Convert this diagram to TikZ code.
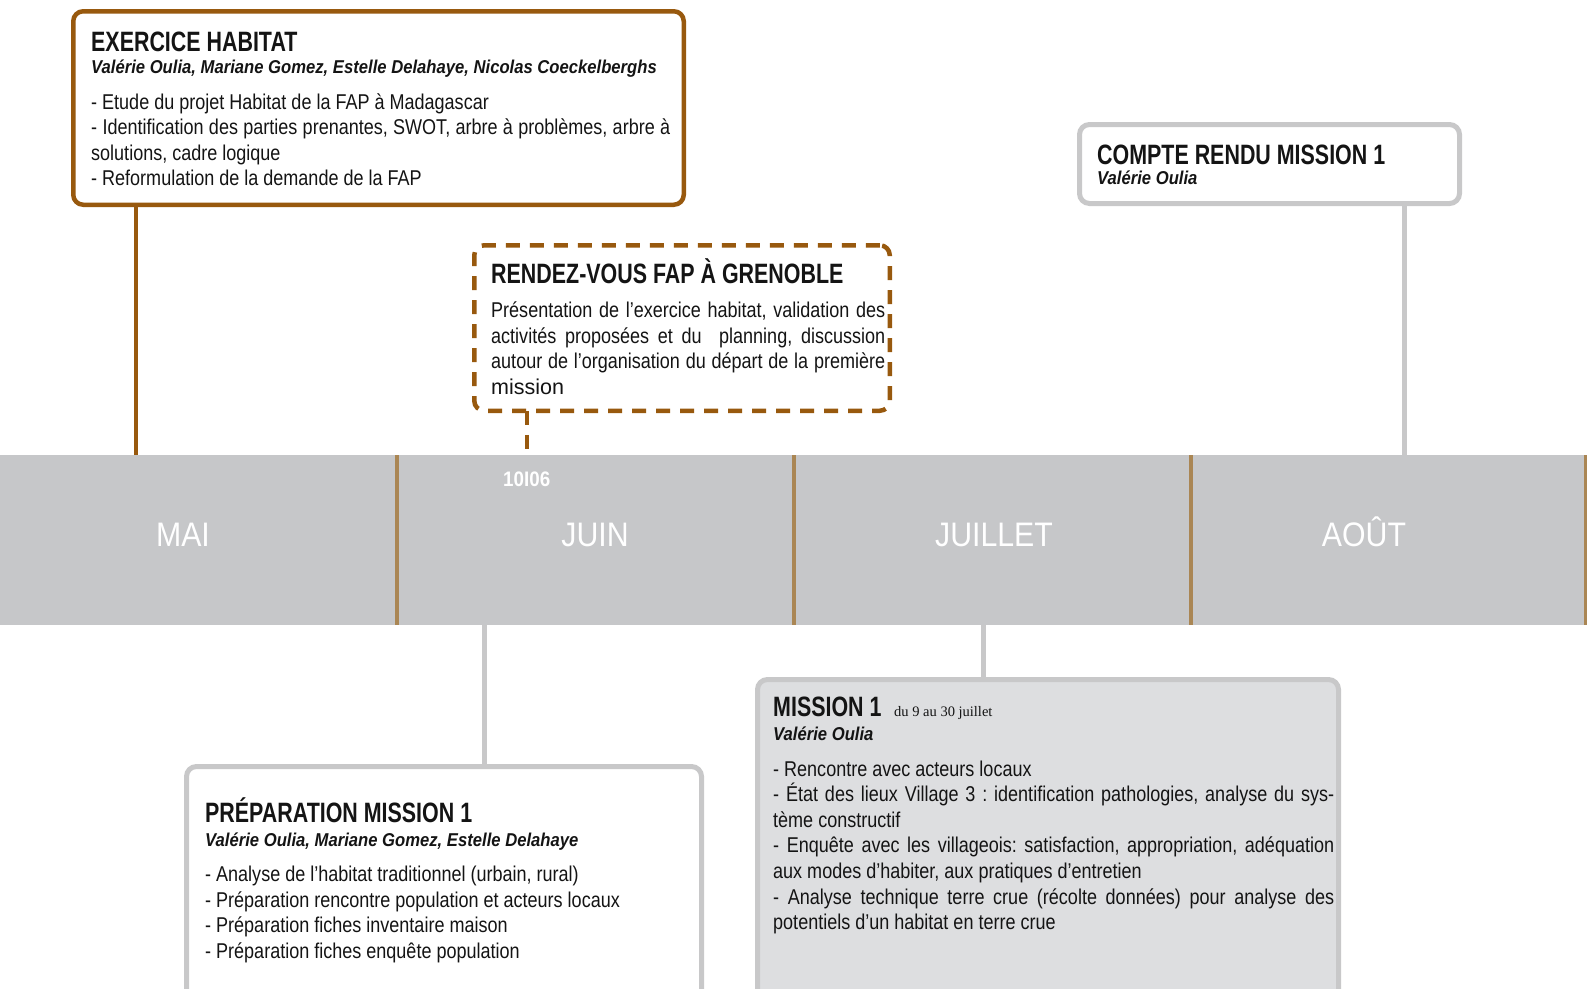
\documentclass[tikz,border=0pt]{standalone}
\usepackage{fontspec}
\setmainfont{Liberation Sans}
\newfontfamily\fTitle[FakeStretch=0.765]{Liberation Sans}
\newfontfamily\fAuth[FakeStretch=0.895]{Liberation Sans}
\newfontfamily\fBody[FakeStretch=0.842]{Liberation Sans}
\newfontfamily\fMonth[FakeStretch=0.89]{Liberation Sans}
\newfontfamily\fSerif{Liberation Serif}
\definecolor{brn}{RGB}{152,89,14}
\definecolor{tanc}{RGB}{170,134,84}
\definecolor{bandg}{RGB}{198,199,201}
\definecolor{lineg}{RGB}{200,200,201}
\definecolor{misf}{RGB}{221,222,224}
\definecolor{txt}{RGB}{20,20,20}
\frenchspacing
\begin{document}
\begin{tikzpicture}[x=1pt,y=-1pt,
  boxbase/.style={anchor=north west,inner sep=0pt,outer sep=0pt,rounded corners=10pt},
  brbox/.style={boxbase,draw=brn,line width=4.5pt,fill=white},
  brdash/.style={boxbase,draw=brn,line width=4.5pt,dash pattern=on 14pt off 10pt,fill=white},
  gbox/.style={boxbase,draw=lineg,line width=5pt,fill=white},
  mbox/.style={boxbase,draw=lineg,line width=5pt,fill=misf},
  bconn/.style={draw=brn,line width=4.5pt},
  bdconn/.style={draw=brn,line width=4.5pt,dash pattern=on 14pt off 10pt},
  gconn/.style={draw=lineg,line width=5pt},
  bandcell/.style={anchor=north west,inner sep=0pt,outer sep=0pt,fill=bandg,minimum height=170pt},
  divline/.style={draw=tanc,line width=3.5pt},
  ttl/.style={anchor=base west,inner sep=0pt,text=txt,font=\fTitle\bfseries\fontsize{28}{30}\selectfont},
  auth/.style={anchor=base west,inner sep=0pt,text=txt,font=\fAuth\bfseries\itshape\fontsize{18.6}{22}\selectfont},
  bodytxt/.style={anchor=base west,inner sep=0pt,text=txt,font=\fBody\fontsize{21.4}{25.6}\selectfont},
  monthlbl/.style={anchor=base,inner sep=0pt,text=white,font=\fMonth\fontsize{34}{34}\selectfont}
]
\useasboundingbox (0,0) rectangle (1587,988);
\clip (0,0) rectangle (1587,988);
\fill[white] (0,0) rectangle (1587,988);

% timeline band
\node[bandcell,minimum width=397pt] (mai) at (0,455) {};
\node[bandcell,minimum width=397pt] (juin) at (397,455) {};
\node[bandcell,minimum width=397pt] (juillet) at (794,455) {};
\node[bandcell,minimum width=396pt] (aout) at (1191,455) {};
\draw[divline] (mai.north east) -- (mai.south east);
\draw[divline] (juin.north east) -- (juin.south east);
\draw[divline] (juillet.north east) -- (juillet.south east);
\draw[divline] ([xshift=-1.75pt]aout.north east) -- ([xshift=-1.75pt]aout.south east);
\node[monthlbl] (lmai) at (183,546.5) {MAI};
\node[monthlbl] (ljuin) at (595,546.5) {JUIN};
\node[monthlbl] (ljuillet) at (994,546.5) {JUILLET};
\node[monthlbl] (laout) at (1364,546.5) {AOÛT};
\node[anchor=base west,inner sep=0pt,text=white,font=\fAuth\bfseries\fontsize{21}{21}\selectfont] (date) at (503,486) {10I06};

% boxes
\node[brbox,minimum width=610.5pt,minimum height=193.5pt] (exbox) at (73.25,11.25) {};
\node[brdash,minimum width=415.5pt,minimum height=165.5pt] (rdvbox) at (474.25,245.25) {};
\node[gbox,minimum width=380pt,minimum height=79pt] (crbox) at (1079.5,124.5) {};
\node[gbox,minimum width=515pt,minimum height=260pt] (prepbox) at (186.5,766.5) {};
\node[mbox,minimum width=581pt,minimum height=340pt] (misbox) at (757.5,679.5) {};

% connectors
\draw[bconn] (exbox.south -| 136,0) -- (mai.north -| 136,0);
\draw[bdconn] (rdvbox.south -| 527,0) -- (juin.north -| 527,0);
\draw[gconn] (crbox.south -| 1404.5,0) -- (aout.north -| 1404.5,0);
\draw[gconn] (juin.south -| 484,0) -- (prepbox.north -| 484,0);
\draw[gconn] (juillet.south -| 983,0) -- (misbox.north -| 983,0);

% box 1
\node[ttl] (exT) at (91,51.7) {EXERCICE HABITAT};
\node[auth] (exA) at (91,73.3) {Valérie Oulia, Mariane Gomez, Estelle Delahaye, Nicolas Coeckelberghs};
\node[bodytxt] (exB) at (91,109) {\vtop{\hbox{- Etude du projet Habitat de la FAP à Madagascar}\hbox to 579pt{- Identification des parties prenantes, SWOT, arbre à problèmes, arbre à}\hbox{solutions, cadre logique}\hbox{- Reformulation de la demande de la FAP}}};

% box 2
\node[ttl] (rdvT) at (491,283) {RENDEZ-VOUS FAP À GRENOBLE};
\node[bodytxt] (rdvB) at (491,317.5) {\vtop{\hbox to 394pt{Présentation de l’exercice habitat, validation des}\hbox to 394pt{activités proposées et du \ planning, discussion}\hbox to 394pt{autour de l’organisation du départ de la première}\hbox{\normalfont\fontsize{21.5}{25.6}\selectfont mission}}};

% box 3
\node[ttl] (crT) at (1097,164) {COMPTE RENDU MISSION 1};
\node[auth] (crA) at (1097,184) {Valérie Oulia};

% box 4
\node[ttl] (prT) at (205,822.7) {PRÉPARATION MISSION 1};
\node[auth] (prA) at (205,846.7) {Valérie Oulia, Mariane Gomez, Estelle Delahaye};
\node[bodytxt] (prB) at (205,881.7) {\vtop{\hbox{- Analyse de l’habitat traditionnel (urbain, rural)}\hbox{- Préparation rencontre population et acteurs locaux}\hbox{- Préparation fiches inventaire maison}\hbox{- Préparation fiches enquête population}}};

% box 5
\node[ttl] (miT) at (773,716) {MISSION 1};
\node[anchor=base west,inner sep=0pt,text=txt,font=\fSerif\fontsize{14.5}{16}\selectfont] (miD) at (894,716) {du 9 au 30 juillet};
\node[auth] (miA) at (773,740) {Valérie Oulia};
\node[bodytxt] (miB) at (773,776) {\vtop{\hbox{- Rencontre avec acteurs locaux}\hbox to 561pt{- État des lieux Village 3 : identification pathologies, analyse du sys-}\hbox{tème constructif}\hbox to 561pt{- Enquête avec les villageois: satisfaction, appropriation, adéquation}\hbox{aux modes d’habiter, aux pratiques d’entretien}\hbox to 561pt{- Analyse technique terre crue (récolte données) pour analyse des}\hbox{potentiels d’un habitat en terre crue}}};
\end{tikzpicture}
\end{document}
